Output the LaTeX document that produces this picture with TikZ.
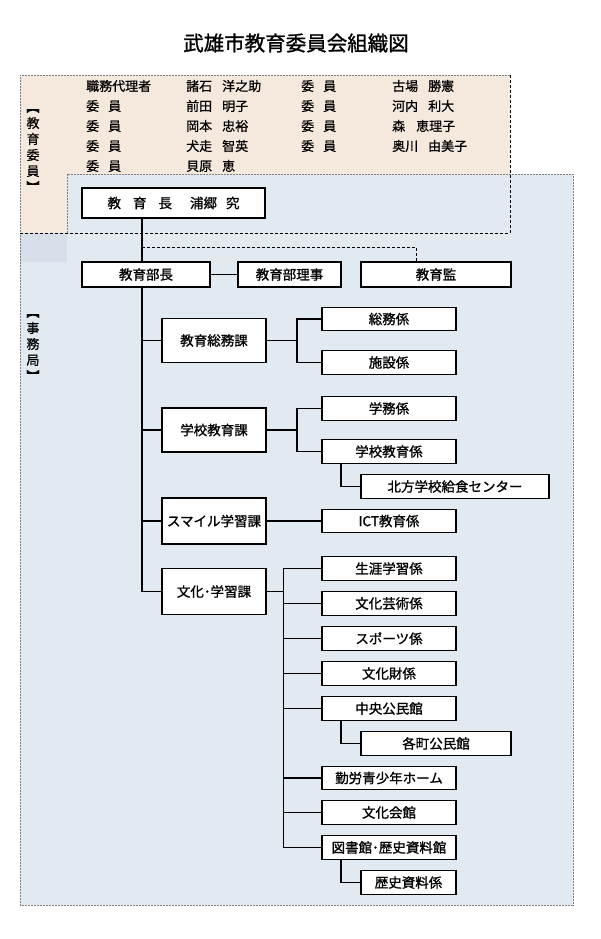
\documentclass[tikz,border=0pt]{standalone}
\usepackage{fontspec}
\setmainfont{Noto Sans CJK JP}
\newfontfamily\boxfont{Noto Sans CJK JP}[FakeBold=1.2]
\newfontfamily\memberfont{Noto Sans CJK JP}[FakeBold=0.7]
\usetikzlibrary{positioning}
\definecolor{boardfill}{HTML}{F5E8DC}
\definecolor{officefill}{HTML}{E0EAF0}
\definecolor{officecorner}{HTML}{D6DFEA}
\definecolor{framegray}{HTML}{7F7F7F}
\newcommand{\vopen}{\rotatebox[origin=c]{-90}{【}}
\newcommand{\vclose}{\rotatebox[origin=c]{-90}{】}}

\begin{document}
\begin{tikzpicture}[x=1pt, y=-1pt,
    unit/.style={draw, line width=1.4pt, fill=white, inner sep=0pt, font=\boxfont\fontsize{13.5}{16}\selectfont},
    kabox/.style={unit, minimum width=104pt, minimum height=44pt},
    kakari/.style={unit, minimum width=134pt, minimum height=23.5pt},
    member/.style={anchor=west, inner sep=0pt, font=\memberfont\fontsize{13}{15}\selectfont},
    vlabel/.style={align=center, inner sep=0pt, font=\memberfont\fontsize{13}{16}\selectfont},
    link/.style={line width=1.4pt}]
        \useasboundingbox (0,0) rectangle (600,939);
        \fill[white] (0,0) rectangle (600,939);
        % background areas
        \fill[boardfill] (20,75) rectangle (510,233);
        \fill[officefill] (67,174) -- (573,174) -- (573,905) -- (20,905) -- (20,233) -- (67,233) -- cycle;
        \fill[officecorner] (20,233) rectangle (67,262);
        \draw[framegray, line width=0.6pt, dash pattern=on 2pt off 1pt] (67,233) -- (67,174) -- (573,174) -- (573,905) -- (20,905) -- (20,233);
        \draw[framegray, line width=0.6pt, dash pattern=on 2pt off 1pt] (510,75) -- (20,75) -- (20,233);
        \draw[line width=1pt, dash pattern=on 3pt off 2pt] (510,75) -- (510,233) -- (20,233);

        \node[font=\boxfont\fontsize{20.5}{24}\selectfont] (title) at (296,43) {武雄市教育委員会組織図};

        % board members
        \node[vlabel] (boardlabel) at (33,147) {\vopen\\教\\育\\委\\員\\\vclose};
        \node[member] (role1) at (86,86) {職務代理者};
        \node[member] (role2) at (86,106) {委\hspace{9pt}員};
        \node[member] (role3) at (86,126) {委\hspace{9pt}員};
        \node[member] (role4) at (86,146) {委\hspace{9pt}員};
        \node[member] (role5) at (86,166) {委\hspace{9pt}員};
        \node[member] (name1) at (186,86) {諸石\hspace{10pt}洋之助};
        \node[member] (name2) at (186,106) {前田\hspace{10pt}明子};
        \node[member] (name3) at (186,126) {岡本\hspace{10pt}忠裕};
        \node[member] (name4) at (186,146) {犬走\hspace{10pt}智英};
        \node[member] (name5) at (186,166) {貝原\hspace{10pt}恵};
        \node[member] (role6) at (301,86) {委\hspace{9pt}員};
        \node[member] (role7) at (301,106) {委\hspace{9pt}員};
        \node[member] (role8) at (301,126) {委\hspace{9pt}員};
        \node[member] (role9) at (301,146) {委\hspace{9pt}員};
        \node[member] (name6) at (392,86) {古場\hspace{10pt}勝憲};
        \node[member] (name7) at (392,106) {河内\hspace{10pt}利大};
        \node[member] (name8) at (392,126) {森\hspace{11pt}恵理子};
        \node[member] (name9) at (392,146) {奥川\hspace{10pt}由美子};

        % secretariat
        \node[vlabel] (officelabel) at (33,344) {\vopen\\事\\務\\局\\\vclose};
        \node[unit, minimum width=183pt, minimum height=30pt] (chief) at (173.5,203) {教\hspace{12pt}育\hspace{12pt}長\hspace{18pt}浦郷\hspace{9pt}究};
        \node[unit, minimum width=128pt, minimum height=25pt] (head) at (146,274.5) {教育部長};
        \node[unit, minimum width=103pt, minimum height=25pt] (riji) at (289.5,274.5) {教育部理事};
        \node[unit, minimum width=150pt, minimum height=25pt] (kanshi) at (436,274.5) {教育監};

        \node[kabox] (soumuka) at (214,340.5) {教育総務課};
        \node[kabox] (gakkoka) at (214,430) {学校教育課};
        \node[kabox, minimum height=46pt] (smileka) at (214,521) {スマイル学習課};
        \node[kabox, minimum height=46pt] (bunkaka) at (214,591.5) {文化･学習課};

        \node[kakari] (soumu) at (389,319) {総務係};
        \node[kakari] (shisetsu) at (389,362.5) {施設係};
        \node[kakari] (gakumu) at (389,408.5) {学務係};
        \node[kakari] (gakkokyoiku) at (389,451.5) {学校教育係};
        \node[unit, minimum width=188pt, minimum height=23.5pt] (kyushoku) at (455,486.5) {北方学校給食センター};
        \node[kakari] (ict) at (389,521) {ICT教育係};
        \node[kakari] (shogai) at (389,568.5) {生涯学習係};
        \node[kakari] (geijutsu) at (389,603.5) {文化芸術係};
        \node[kakari] (sports) at (389,638.5) {スポーツ係};
        \node[kakari] (bunkazai) at (389,673.5) {文化財係};
        \node[kakari] (chuo) at (389,708.5) {中央公民館};
        \node[unit, minimum width=150pt, minimum height=23.5pt] (kakucho) at (436,743.5) {各町公民館};
        \node[kakari] (kinro) at (389,778) {勤労青少年ホーム};
        \node[kakari] (kaikan) at (389,812.5) {文化会館};
        \node[kakari] (toshokan) at (389,847.5) {図書館･歴史資料館};
        \node[unit, minimum width=95pt, minimum height=23.5pt] (rekishi) at (408.5,882.5) {歴史資料係};

        % connectors
        \coordinate (trunk) at (142,0);
        \coordinate (kanjoin) at (142,247);
        \coordinate (soumujoin) at (297,0);
        \coordinate (bunkajoin) at (283.5,0);
        \draw[link] (chief.south -| trunk) -- (head.north -| trunk);
        \draw[link] (head.south -| trunk) |- (bunkaka.west);
        \draw[line width=1pt, dash pattern=on 3pt off 2pt] (kanjoin) -| ([xshift=-20pt]kanshi.north);
        \draw[link] (head.east) -- (riji.west);
        \foreach \ka in {soumuka, gakkoka, smileka}
            \draw[link] (trunk |- \ka.west) -- (\ka.west);
        \draw[link] (soumuka.east) -- (soumuka.east -| soumujoin);
        \draw[link] (soumu.west) -| (soumujoin |- shisetsu.west) -- (shisetsu.west);
        \draw[link] (gakkoka.east) -- (gakkoka.east -| soumujoin);
        \draw[link] (gakumu.west) -| (soumujoin |- gakkokyoiku.west) -- (gakkokyoiku.west);
        \draw[link] ([xshift=-48pt]gakkokyoiku.south) |- (kyushoku.west);
        \draw[link] (smileka.east) -- (ict.west);
        \draw[link] (bunkaka.east) -- (bunkaka.east -| bunkajoin);
        \draw[link] (shogai.west) -| (bunkajoin |- toshokan.west) -- (toshokan.west);
        \foreach \kk in {geijutsu, sports, bunkazai, chuo, kinro, kaikan}
            \draw[link] (bunkajoin |- \kk.west) -- (\kk.west);
        \draw[link] ([xshift=-48pt]chuo.south) |- (kakucho.west);
        \draw[link] ([xshift=-48pt]toshokan.south) |- (rekishi.west);
      \end{tikzpicture}
\end{document}
